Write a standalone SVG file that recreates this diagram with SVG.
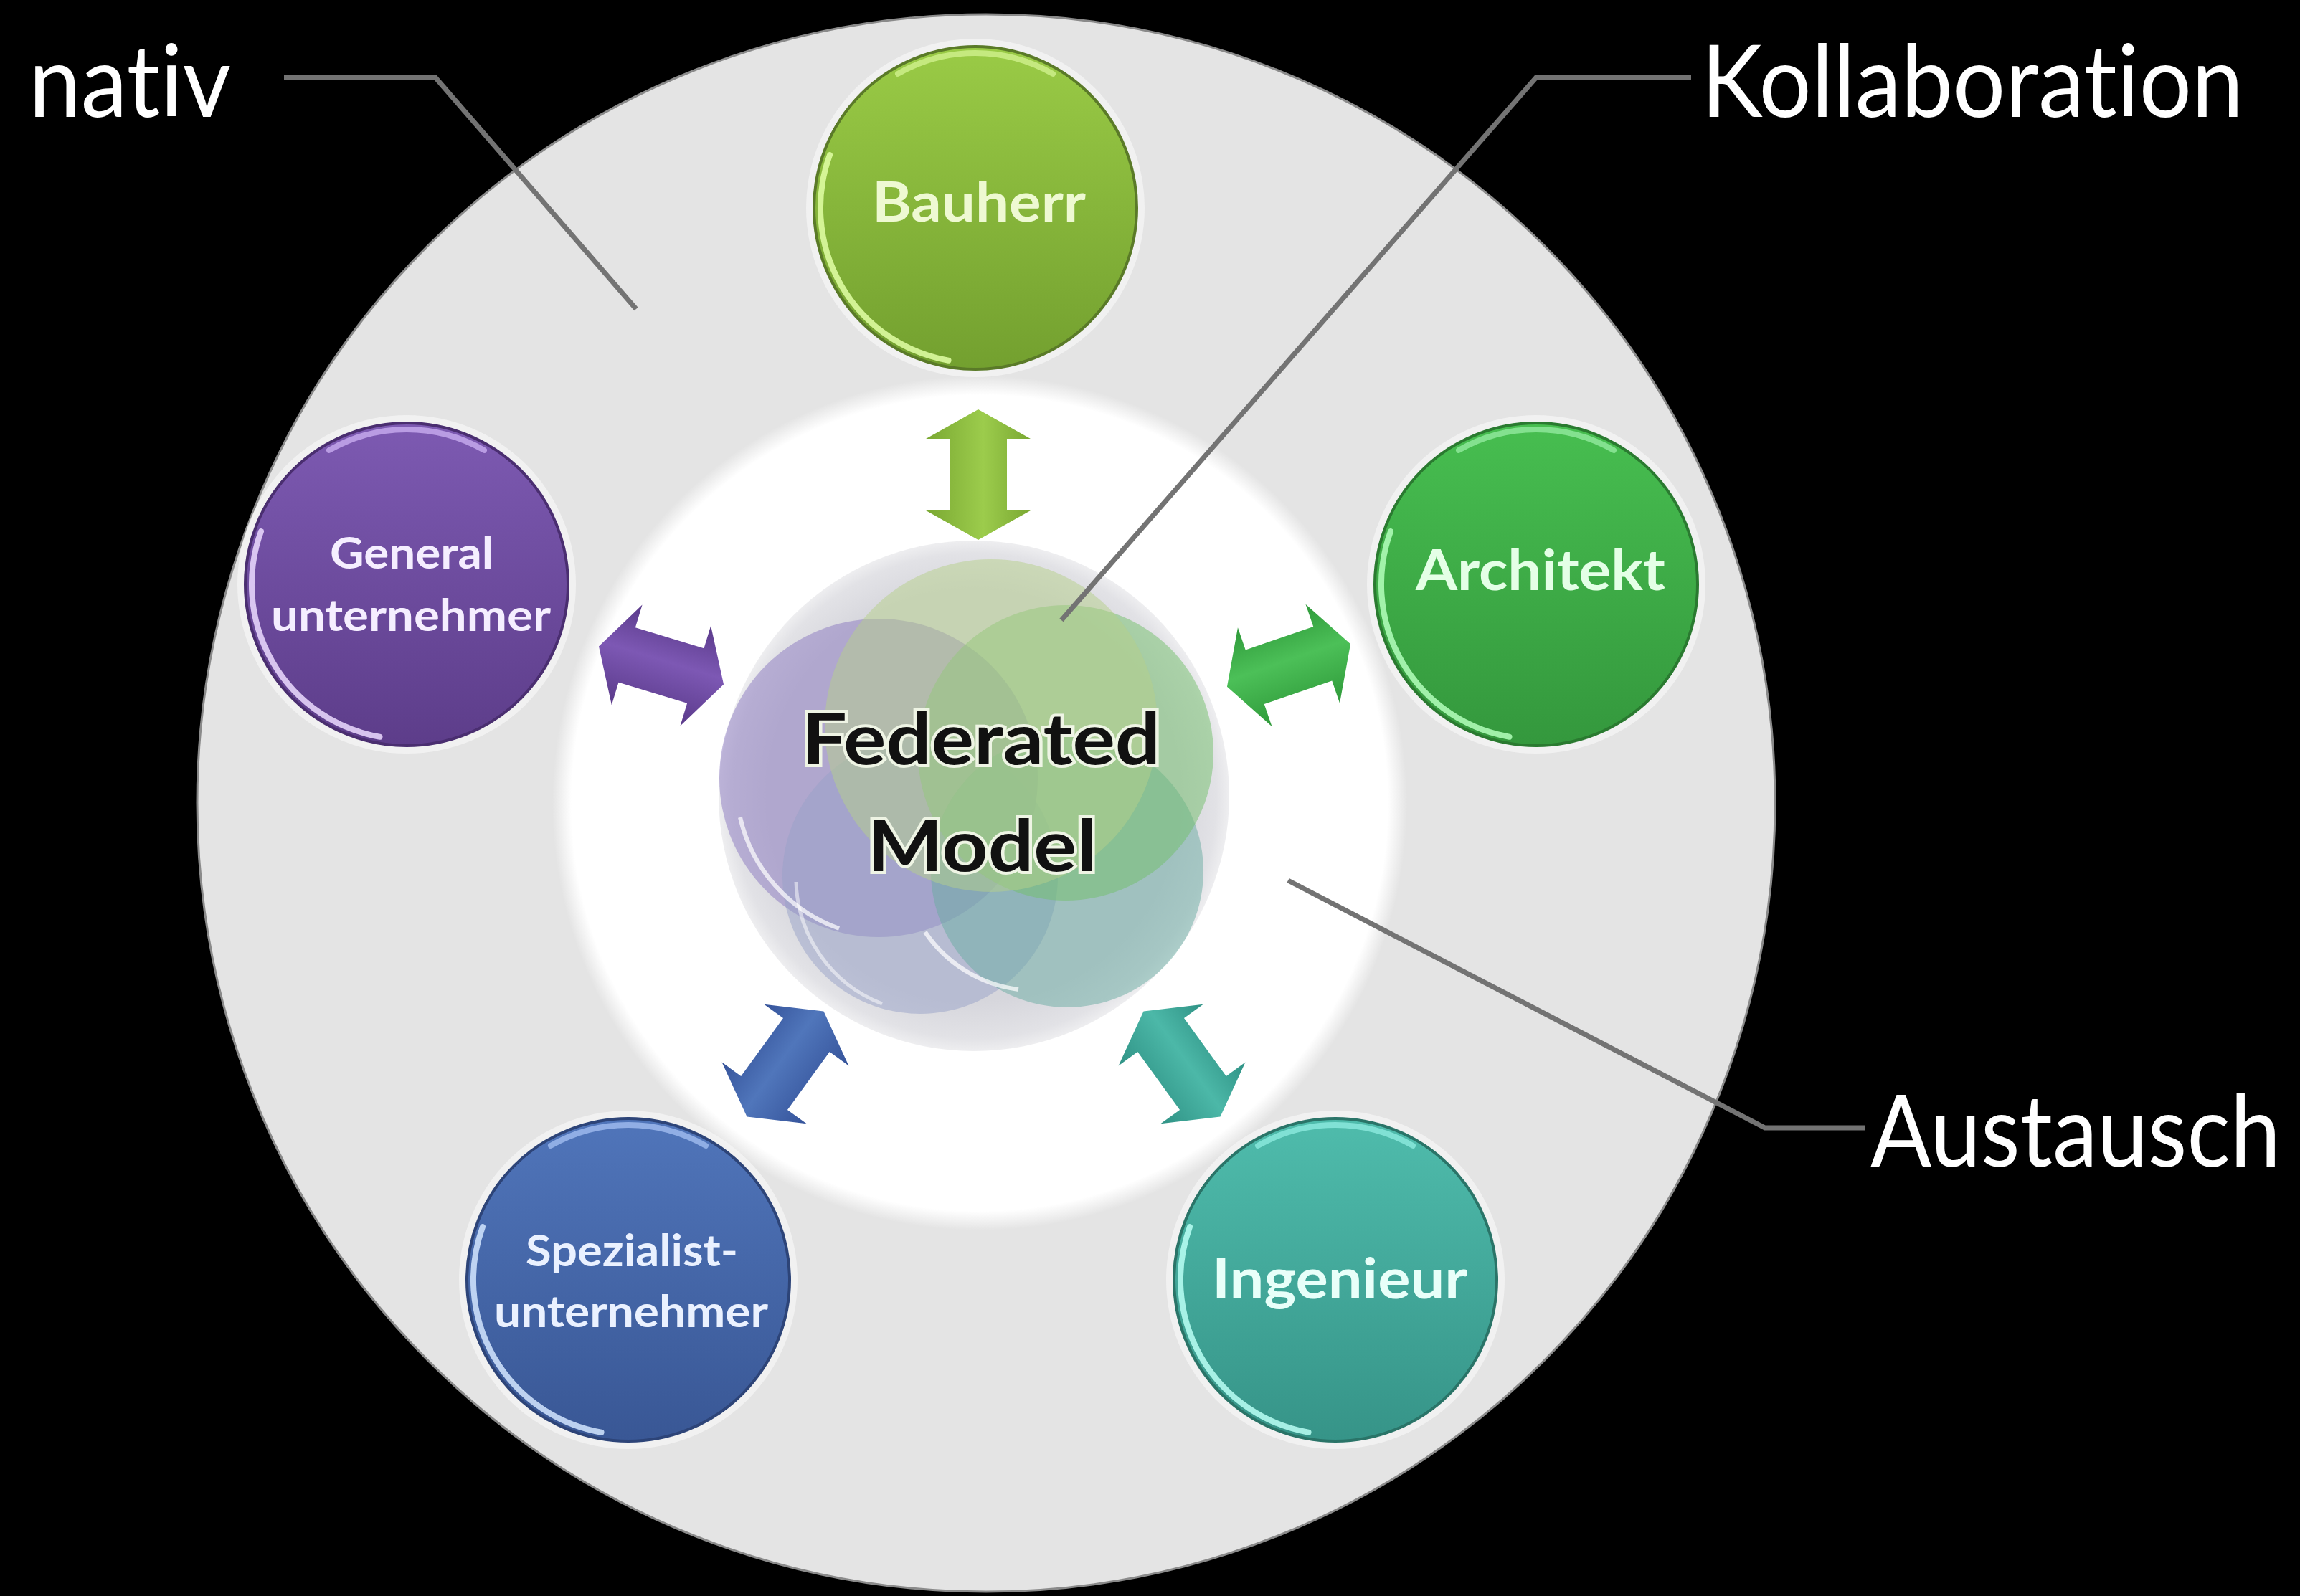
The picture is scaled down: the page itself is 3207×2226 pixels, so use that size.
<svg xmlns="http://www.w3.org/2000/svg" xmlns:xlink="http://www.w3.org/1999/xlink" width="3207" height="2226" viewBox="0 0 3207 2226">
<style>
.lbl{font-family:Lato,"Liberation Sans",sans-serif;font-size:140px;fill:#ffffff;font-variant-ligatures:none;font-feature-settings:"liga" 0,"clig" 0}
.nt{font-family:Lato,"Open Sans","Liberation Sans",sans-serif;font-weight:700;text-anchor:middle;font-variant-ligatures:none;font-feature-settings:"liga" 0,"clig" 0}
.lead{fill:none;stroke:#737373;stroke-width:7;stroke-linejoin:miter}
.hl{fill:none;stroke-width:8;stroke-linecap:round;opacity:0.85}
.halo{fill:#f3f3f3;opacity:0.85}
.venn{opacity:0.5}
</style>
<defs>
<radialGradient id="gWhite" cx="0.5" cy="0.5" r="0.5">
<stop offset="0.955" stop-color="#ffffff"/>
<stop offset="1" stop-color="#e4e4e4"/>
</radialGradient>
<radialGradient id="gDisc" cx="0.5" cy="0.5" r="0.5">
<stop offset="0.8" stop-color="#d6d6dc"/>
<stop offset="0.95" stop-color="#e2e2e6"/>
<stop offset="1" stop-color="#eeeef0"/>
</radialGradient>
<linearGradient id="gBau" x1="0" y1="0" x2="0" y2="1"><stop offset="0" stop-color="#9acb46"/><stop offset="1" stop-color="#73a02f"/></linearGradient>
<linearGradient id="gArc" x1="0" y1="0" x2="0" y2="1"><stop offset="0" stop-color="#47be50"/><stop offset="1" stop-color="#34983d"/></linearGradient>
<linearGradient id="gIng" x1="0" y1="0" x2="0" y2="1"><stop offset="0" stop-color="#4fbcac"/><stop offset="1" stop-color="#369488"/></linearGradient>
<linearGradient id="gSpe" x1="0" y1="0" x2="0" y2="1"><stop offset="0" stop-color="#5075ba"/><stop offset="1" stop-color="#395795"/></linearGradient>
<linearGradient id="gGen" x1="0" y1="0" x2="0" y2="1"><stop offset="0" stop-color="#7d5ab2"/><stop offset="1" stop-color="#5d3d8a"/></linearGradient>
<linearGradient id="aBau" x1="0" y1="0" x2="0" y2="1"><stop offset="0" stop-color="#7aa832"/><stop offset="0.45" stop-color="#9ccc4c"/><stop offset="1" stop-color="#7aa832"/></linearGradient>
<linearGradient id="aArc" x1="0" y1="0" x2="0" y2="1"><stop offset="0" stop-color="#2f9a3a"/><stop offset="0.45" stop-color="#4cc058"/><stop offset="1" stop-color="#2f9a3a"/></linearGradient>
<linearGradient id="aIng" x1="0" y1="0" x2="0" y2="1"><stop offset="0" stop-color="#2f9285"/><stop offset="0.45" stop-color="#4cb8a8"/><stop offset="1" stop-color="#2f9285"/></linearGradient>
<linearGradient id="aSpe" x1="0" y1="0" x2="0" y2="1"><stop offset="0" stop-color="#35539a"/><stop offset="0.45" stop-color="#5076bb"/><stop offset="1" stop-color="#35539a"/></linearGradient>
<linearGradient id="aGen" x1="0" y1="0" x2="0" y2="1"><stop offset="0" stop-color="#5a3a8a"/><stop offset="0.45" stop-color="#7d58b4"/><stop offset="1" stop-color="#5a3a8a"/></linearGradient>
<path id="hlBL" d="M -203 -73.9 A 216 216 0 0 0 -37.5 212.7"/>
<path id="hlTop" d="M -108 -187.1 A 216 216 0 0 1 108 -187.1"/>
<path id="dblArrow" d="M -91 0 L -50 -73 L -50 -40 L 50 -40 L 50 -73 L 91 0 L 50 73 L 50 40 L -50 40 L -50 73 Z"/>
</defs>

<rect x="0" y="0" width="3207" height="2226" fill="#000000"/>

<g id="background-rings">
<circle cx="1375" cy="1120" r="1100" fill="#e4e4e4" stroke="#8a8a8a" stroke-width="3"/>
<circle cx="1366" cy="1120" r="596" fill="url(#gWhite)"/>
</g>

<g id="node-federated-model">
<circle cx="1358" cy="1110" r="356" fill="url(#gDisc)"/>
<circle class="venn" cx="1225" cy="1085" r="222" fill="#8a78c0"/>
<circle class="venn" cx="1283" cy="1222" r="192" fill="#98a2c8"/>
<circle class="venn" cx="1488" cy="1215" r="190" fill="#6aaca2"/>
<circle class="venn" cx="1486" cy="1050" r="206" fill="#72c06a"/>
<circle class="venn" cx="1382" cy="1012" r="232" fill="#b6d08a"/>
<path d="M 1032 1140 A 215 215 0 0 0 1170 1295" fill="none" stroke="#ffffff" stroke-width="6" opacity="0.7"/>
<path d="M 1290 1300 A 185 185 0 0 0 1420 1380" fill="none" stroke="#ffffff" stroke-width="6" opacity="0.7"/>
<path d="M 1110 1230 A 188 188 0 0 0 1230 1400" fill="none" stroke="#ffffff" stroke-width="5" opacity="0.5"/>
<text class="nt" x="1368" y="1066" font-size="100" textLength="500" lengthAdjust="spacingAndGlyphs" fill="#111111" stroke="#eef4e4" stroke-width="8" paint-order="stroke">Federated</text>
<text class="nt" x="1369" y="1215" font-size="100" textLength="320" lengthAdjust="spacingAndGlyphs" fill="#111111" stroke="#eef4e4" stroke-width="8" paint-order="stroke">Model</text>
</g>

<g id="node-bauherr" transform="translate(1360,290)">
<circle class="halo" r="236"/>
<circle r="225" fill="url(#gBau)" stroke="#5a7a28" stroke-width="4"/>
<use href="#hlBL" class="hl" stroke="#e2ffa6"/>
<use href="#hlTop" class="hl" stroke="#cdee8a" stroke-width="6"/>
<text class="nt" x="5" y="19" font-size="76" textLength="298" lengthAdjust="spacingAndGlyphs" fill="#eef9d2">Bauherr</text>
</g>

<g id="node-architekt" transform="translate(2142,815)">
<circle class="halo" r="236"/>
<circle r="225" fill="url(#gArc)" stroke="#2a7a30" stroke-width="4"/>
<use href="#hlBL" class="hl" stroke="#b4ffbc"/>
<use href="#hlTop" class="hl" stroke="#8ee89a" stroke-width="6"/>
<text class="nt" x="6" y="8" font-size="78" textLength="348" lengthAdjust="spacingAndGlyphs" fill="#e4ffe6">Architekt</text>
</g>

<g id="node-ingenieur" transform="translate(1862,1785)">
<circle class="halo" r="236"/>
<circle r="225" fill="url(#gIng)" stroke="#2a7468" stroke-width="4"/>
<use href="#hlBL" class="hl" stroke="#bafff4"/>
<use href="#hlTop" class="hl" stroke="#8ae8dc" stroke-width="6"/>
<text class="nt" x="6" y="26" font-size="78" textLength="356" lengthAdjust="spacingAndGlyphs" fill="#e8fff9">Ingenieur</text>
</g>

<g id="node-spezialistunternehmer" transform="translate(876,1785)">
<circle class="halo" r="236"/>
<circle r="225" fill="url(#gSpe)" stroke="#2d4478" stroke-width="4"/>
<use href="#hlBL" class="hl" stroke="#d4e6ff"/>
<use href="#hlTop" class="hl" stroke="#9cb8ec" stroke-width="6"/>
<text class="nt" x="5" y="-19" font-size="62" textLength="296" lengthAdjust="spacingAndGlyphs" fill="#eaf1ff">Spezialist-</text>
<text class="nt" x="4" y="66" font-size="62" textLength="382" lengthAdjust="spacingAndGlyphs" fill="#eaf1ff">unternehmer</text>
</g>

<g id="node-generalunternehmer" transform="translate(567,815)">
<circle class="halo" r="236"/>
<circle r="225" fill="url(#gGen)" stroke="#4a2e70" stroke-width="4"/>
<use href="#hlBL" class="hl" stroke="#ecdcff"/>
<use href="#hlTop" class="hl" stroke="#c4a8ec" stroke-width="6"/>
<text class="nt" x="7" y="-22" font-size="62" textLength="228" lengthAdjust="spacingAndGlyphs" fill="#f5eeff">General</text>
<text class="nt" x="6" y="65" font-size="62" textLength="390" lengthAdjust="spacingAndGlyphs" fill="#f5eeff">unternehmer</text>
</g>

<g id="connectors">
<use href="#dblArrow" transform="translate(1364,662) rotate(90)" fill="url(#aBau)"/>
<use href="#dblArrow" transform="translate(1797,928) rotate(-19)" fill="url(#aArc)"/>
<use href="#dblArrow" transform="translate(922,928) rotate(17)" fill="url(#aGen)"/>
<use href="#dblArrow" transform="translate(1095,1484) rotate(-54)" fill="url(#aSpe)"/>
<use href="#dblArrow" transform="translate(1648,1484) rotate(54)" fill="url(#aIng)"/>
<polyline class="lead" points="396,108 607,108 887,431"/>
<polyline class="lead" points="2358,108 2142,108 1480,865"/>
<polyline class="lead" points="1796,1228 2461,1573 2600,1573"/>
</g>

<g id="labels">
<text class="lbl" x="40" y="163" textLength="282" lengthAdjust="spacingAndGlyphs">nativ</text>
<text class="lbl" x="2372" y="163" textLength="756" lengthAdjust="spacingAndGlyphs">Kollaboration</text>
<text class="lbl" transform="translate(2608,1627) scale(0.88,1)" x="0" y="0" textLength="650" lengthAdjust="spacingAndGlyphs">Austausch</text>
</g>
</svg>
